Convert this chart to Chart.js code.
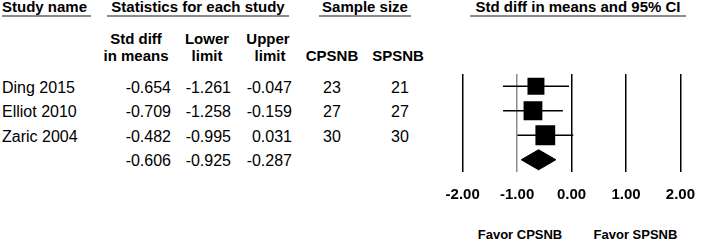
<!DOCTYPE html>
<html>
<head>
<meta charset="utf-8">
<script src="https://cdn.jsdelivr.net/npm/chart.js@4.4.1/dist/chart.umd.min.js"></script>
<style>
  html, body { margin: 0; padding: 0; background: #fff; }
  #wrap { position: relative; width: 709px; height: 240px; overflow: hidden; }
  #table { position: absolute; left: 0; top: 0; }
  #table text { font-family: 'Liberation Sans', Arial, sans-serif; fill: #000; }
  #table .hd { font-weight: bold; font-size: 15px; }
  #table .row { font-size: 16px; }
  #table .fav { font-weight: bold; font-size: 13px; }
  #plot-box { position: absolute; left: 430px; top: 60px; width: 279px; height: 180px; }
</style>
</head>
<body>
<div id="wrap">
  <svg id="table" width="709" height="240"></svg>
  <div id="plot-box"><canvas id="forest"></canvas></div>
</div>
<script>
// study data
const studies = ['Ding 2015', 'Elliot 2010', 'Zaric 2004'];
const stdDiff = [-0.654, -0.709, -0.482];
const lowerLimit = [-1.261, -1.258, -0.995];
const upperLimit = [-0.047, -0.159, 0.031];
const nCPSNB = [23, 27, 30];
const nSPSNB = [21, 27, 30];
// pooled effect
const pooledDiff = -0.606;
const pooledLower = -0.925;
const pooledUpper = -0.287;
const xTicks = [-2, -1, 0, 1, 2];
const favorLabels = ['Favor CPSNB', 'Favor SPSNB'];

// ---------- table text (svg) ----------
const svg = document.getElementById('table');
const NS = 'http://www.w3.org/2000/svg';

function addText(str, x, y, cls, anchor) {
    var t = document.createElementNS(NS, 'text');
    t.setAttribute('x', x);
    t.setAttribute('y', y);
    t.setAttribute('class', cls);
    t.setAttribute('text-anchor', anchor || 'start');
    t.textContent = str;
    svg.appendChild(t);
}
function addRule(x1, x2, y) {
    var l = document.createElementNS(NS, 'line');
    l.setAttribute('x1', x1); l.setAttribute('x2', x2);
    l.setAttribute('y1', y); l.setAttribute('y2', y);
    l.setAttribute('stroke', '#8a8a8a');
    l.setAttribute('stroke-width', 2);
    svg.appendChild(l);
}

addText('Study name', 2, 12, 'hd');
addText('Statistics for each study', 198, 12, 'hd', 'middle');
addText('Sample size', 365, 12, 'hd', 'middle');
addText('Std diff in means and 95% CI', 578, 12, 'hd', 'middle');
addRule(2, 91, 16);
addRule(107, 289, 16);
addRule(319, 411, 16);
addRule(470, 686, 16);

addText('Std diff', 136, 44, 'hd', 'middle');
addText('in means', 136, 61, 'hd', 'middle');
addText('Lower', 207, 44, 'hd', 'middle');
addText('limit', 207, 61, 'hd', 'middle');
addText('Upper', 268, 44, 'hd', 'middle');
addText('limit', 270, 61, 'hd', 'middle');
addText('CPSNB', 332, 61, 'hd', 'middle');
addText('SPSNB', 398, 61, 'hd', 'middle');

const rowBase = [92.5, 117, 141.5, 166];
studies.forEach(function (name, i) {
    var y = rowBase[i];
    addText(name, 2, y, 'row');
    addText(stdDiff[i].toFixed(3), 171, y, 'row', 'end');
    addText(lowerLimit[i].toFixed(3), 231, y, 'row', 'end');
    addText(upperLimit[i].toFixed(3), 292, y, 'row', 'end');
    addText(String(nCPSNB[i]), 332, y, 'row', 'middle');
    addText(String(nSPSNB[i]), 400, y, 'row', 'middle');
});
addText(pooledDiff.toFixed(3), 171, rowBase[3], 'row', 'end');
addText(pooledLower.toFixed(3), 231, rowBase[3], 'row', 'end');
addText(pooledUpper.toFixed(3), 292, rowBase[3], 'row', 'end');

addText(favorLabels[0], 520, 239, 'fav', 'middle');
addText(favorLabels[1], 635.5, 239, 'fav', 'middle');

// ---------- forest plot (chart.js) ----------
const totalMax = Math.max.apply(null, nCPSNB.map(function (n, i) { return n + nSPSNB[i]; }));
const boxRadius = nCPSNB.map(function (n, i) {
    return 14 * Math.sqrt((n + nSPSNB[i]) / totalMax);
});

let datasets = [];
// CI whiskers
studies.forEach(function (name, i) {
    datasets.push({
        type: 'line',
        data: [{ x: lowerLimit[i], y: i }, { x: upperLimit[i], y: i }],
        borderColor: '#000',
        borderWidth: 1.5,
        pointRadius: 0
    });
});
// study boxes
datasets.push({
    type: 'scatter',
    data: stdDiff.map(function (v, i) { return { x: v, y: i }; }),
    pointStyle: 'rect',
    pointRadius: boxRadius,
    backgroundColor: '#000',
    borderColor: '#000',
    borderWidth: 0
});
// pooled diamond
const dh = 0.41;
datasets.push({
    type: 'line',
    data: [
        { x: pooledLower, y: 3 },
        { x: pooledDiff, y: 3 - dh },
        { x: pooledUpper, y: 3 },
        { x: pooledDiff, y: 3 + dh },
        { x: pooledLower, y: 3 }
    ],
    borderColor: '#000',
    borderWidth: 1,
    backgroundColor: '#000',
    fill: 'shape',
    tension: 0,
    pointRadius: 0
});

new Chart(document.getElementById('forest'), {
    type: 'scatter',
    data: { datasets: datasets },
    options: {
        responsive: true,
        maintainAspectRatio: false,
        animation: false,
        events: [],
        layout: { padding: { left: 32.7, right: 17, top: 14, bottom: 22 } },
        plugins: { legend: { display: false }, tooltip: { enabled: false } },
        scales: {
            x: {
                type: 'linear',
                min: -2,
                max: 2,
                afterBuildTicks: function (axis) {
                    axis.ticks = xTicks.map(function (v) { return { value: v }; });
                },
                border: { display: false },
                grid: {
                    drawTicks: false,
                    lineWidth: 1.5,
                    color: function (ctx) {
                        return ctx.tick && ctx.tick.value === -1 ? '#8c8c8c' : '#000';
                    }
                },
                ticks: {
                    padding: 14,
                    color: '#000',
                    font: { family: "'Liberation Sans', Arial, sans-serif", size: 15, weight: 'bold' },
                    callback: function (v) { return Number(v).toFixed(2); }
                }
            },
            y: {
                type: 'linear',
                min: -0.5,
                max: 3.5,
                reverse: true,
                display: false
            }
        }
    }
});
</script>
</body>
</html>
